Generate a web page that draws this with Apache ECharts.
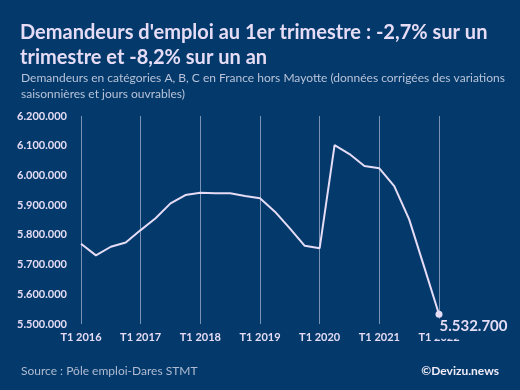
<!DOCTYPE html>
<html><head><meta charset="utf-8">
<script src="https://cdn.jsdelivr.net/npm/echarts@6/dist/echarts.min.js"></script>
<style>html,body{margin:0;padding:0;background:#033a6b;}#c{width:520px;height:390px;}</style>
</head><body><div id="c"></div>
<script>
var categories = ['T1 2016','T2 2016','T3 2016','T4 2016','T1 2017','T2 2017','T3 2017','T4 2017','T1 2018','T2 2018','T3 2018','T4 2018','T1 2019','T2 2019','T3 2019','T4 2019','T1 2020','T2 2020','T3 2020','T4 2020','T1 2021','T2 2021','T3 2021','T4 2021','T1 2022'];
var demandeurs = [5770000,5731000,5760000,5774000,5816000,5856000,5906000,5934000,5942000,5940000,5940000,5931000,5923000,5878000,5822000,5763000,5755000,6102000,6072000,6032000,6024000,5964000,5852000,5693000,5532700];
var yTicks = {min:5500000, max:6200000, step:100000};

function fmt(v){ return String(Math.round(v)).replace(/\B(?=(\d{3})+(?!\d))/g,'.'); }

var light = '#e6dcf5';
var bg = '#033a6b';
var chart = echarts.init(document.getElementById('c'));
var last = demandeurs.length - 1;
var seriesData = demandeurs.map(function(v,i){
  if(i===last){
    return {value:v, symbol:'circle', symbolSize:7,
      label:{show:true, position:[-4,8], formatter:function(p){return fmt(p.value);},
        color:light, fontFamily:'Lato', fontWeight:'bold', fontSize:15,
        backgroundColor:bg, padding:[0,2,5,8]}};
  }
  return {value:v, symbol:'none'};
});
chart.setOption({
  backgroundColor: bg,
  animation:false,
  title:[
    {text:"Demandeurs d'emploi au 1er trimestre : -2,7% sur un\ntrimestre et -8,2% sur un an", left:15, top:15,
     textStyle:{color:light, fontFamily:'Lato', fontWeight:'bold', fontSize:20, lineHeight:25}},
    {text:"Demandeurs en catégories A, B, C en France hors Mayotte (données corrigées des variations\nsaisonnières et jours ouvrables)", left:16, top:65,
     textStyle:{color:'#b9c2d8', fontFamily:'Lato', fontWeight:'normal', fontSize:12, lineHeight:16}},
    {text:"Source : Pôle emploi-Dares STMT", left:16, top:360,
     textStyle:{color:'#b0bbd2', fontFamily:'Lato', fontWeight:'normal', fontSize:12}},
    {text:"©Devizu.news", right:16, top:360,
     textStyle:{color:'#f0ecf8', fontFamily:'Lato', fontWeight:'bold', fontSize:12}}
  ],
  grid:{left:81, right:81, top:116, bottom:66, containLabel:false},
  xAxis:{type:'category', data:categories, boundaryGap:false,
    axisLine:{show:false}, axisTick:{show:false},
    axisLabel:{interval:3, color:light, fontFamily:'Lato', fontWeight:'bold', fontSize:11, margin:8},
    splitLine:{show:true, interval:3, lineStyle:{color:'rgba(220,220,240,0.55)', width:1}}},
  yAxis:{type:'value', min:yTicks.min, max:yTicks.max, interval:yTicks.step,
    axisLine:{show:false}, axisTick:{show:false}, splitLine:{show:false},
    axisLabel:{formatter:fmt, color:light, fontFamily:'Lato', fontWeight:'bold', fontSize:11, margin:14}},
  series:[{type:'line', data:seriesData, showSymbol:true, z:5,
    lineStyle:{color:light, width:2}, itemStyle:{color:light}}]
});
</script></body></html>
